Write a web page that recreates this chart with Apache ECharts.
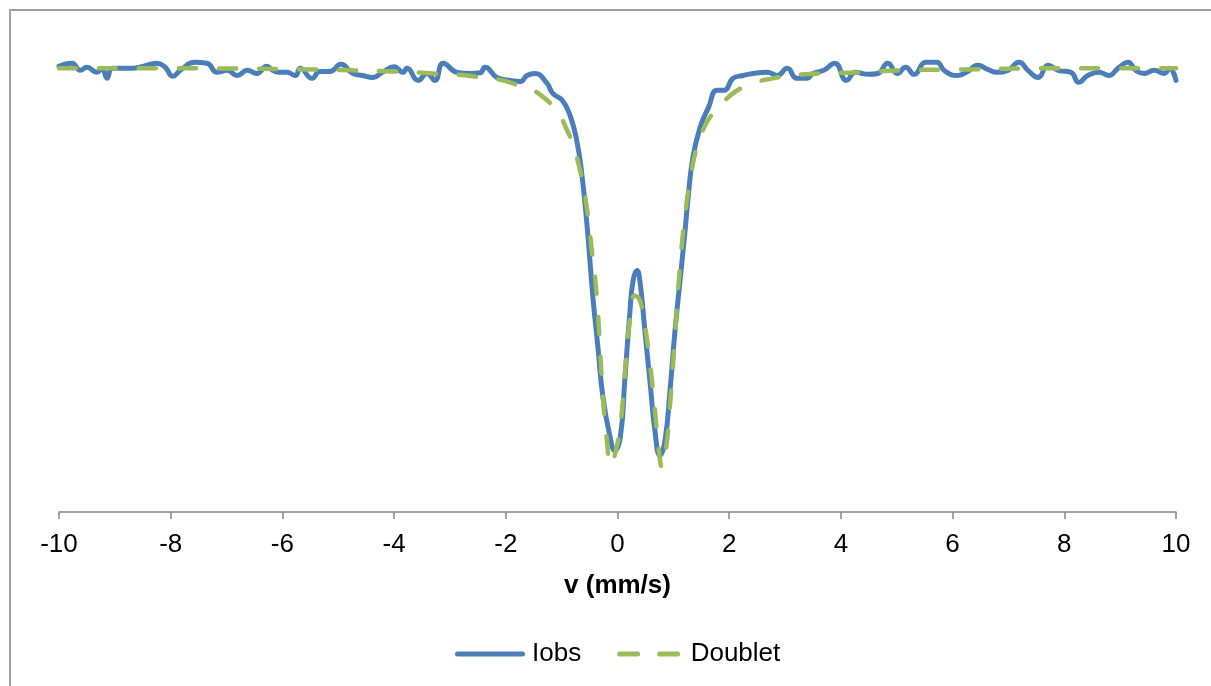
<!DOCTYPE html>
<html>
<head>
<meta charset="utf-8">
<script src="https://cdn.jsdelivr.net/npm/echarts@6/dist/echarts.min.js"></script>
<style>
html,body{margin:0;padding:0;background:#fff;}
#chart{width:1211px;height:686px;}
</style>
</head>
<body>
<div id="chart"></div>
<script>
// x ticks
const xTicks = [-10, -8, -6, -4, -2, 0, 2, 4, 6, 8, 10];

// Iobs (observed spectrum) : velocity (mm/s) and relative intensity
const iobsV = [-10.00,-9.77,-9.62,-9.50,-9.32,-9.23,-9.14,-9.05,-8.91,-8.68,-8.50,-8.25,-8.10,-7.96,-7.83,-7.57,-7.35,-7.17,-6.99,-6.81,-6.63,-6.46,-6.28,-6.17,-6.05,-5.92,-5.77,-5.68,-5.47,-5.33,-5.15,-4.95,-4.74,-4.56,-4.38,-4.21,-4.00,-3.84,-3.77,-3.57,-3.41,-3.27,-3.12,-2.87,-2.64,-2.46,-2.37,-2.16,-1.93,-1.74,-1.62,-1.48,-1.26,-1.16,-0.99,-0.85,-0.73,-0.64,-0.55,-0.44,-0.35,-0.26,-0.13,-0.05,0.05,0.13,0.22,0.28,0.35,0.40,0.49,0.58,0.67,0.76,0.85,0.94,1.03,1.12,1.21,1.26,1.35,1.48,1.63,1.78,1.91,2.07,2.25,2.43,2.68,2.86,3.04,3.21,3.39,3.50,3.69,3.89,4.10,4.26,4.50,4.66,4.84,5.01,5.16,5.31,5.52,5.71,5.87,6.09,6.27,6.45,6.63,6.80,6.99,7.19,7.35,7.53,7.71,7.89,8.12,8.26,8.42,8.62,8.80,8.96,9.14,9.28,9.43,9.61,9.79,9.88,10.00];
const iobsI = [100.09,100.23,99.91,100.05,99.82,100.00,99.55,100.00,100.00,100.00,100.09,100.23,100.05,99.64,99.91,100.27,100.23,99.82,99.91,99.68,99.91,99.77,100.09,99.91,99.82,99.82,99.68,100.00,99.55,99.86,99.86,100.18,99.77,99.68,99.59,99.82,100.07,99.82,100.00,99.46,99.77,99.46,100.23,99.82,99.77,99.80,100.05,99.59,99.46,99.41,99.68,99.77,99.32,98.87,98.56,97.88,96.75,95.26,93.05,89.67,87.42,85.16,83.36,82.77,83.36,85.93,88.95,90.44,90.89,90.44,88.18,85.93,83.67,82.55,83.22,85.48,88.18,90.44,92.69,94.05,95.99,97.34,98.24,99.01,99.01,99.55,99.68,99.77,99.82,99.68,100.00,99.55,99.55,99.77,99.91,100.23,99.46,99.82,99.73,99.77,100.23,99.77,100.05,99.73,100.27,100.27,99.86,99.68,99.86,100.14,99.95,99.82,99.91,100.27,99.91,99.59,100.14,99.91,99.82,99.37,99.68,99.82,99.68,100.00,100.27,99.91,99.77,99.91,99.77,100.00,99.46];

// Doublet (fit)
const dbV = [-10.00,-7.50,-5.47,-4.74,-4.02,-3.30,-2.59,-1.87,-1.26,-0.90,-0.67,-0.55,-0.46,-0.37,-0.26,-0.19,-0.12,-0.05,0.05,0.13,0.22,0.31,0.40,0.49,0.58,0.67,0.74,0.80,0.87,0.94,1.03,1.12,1.21,1.30,1.42,1.57,1.71,1.98,2.25,2.78,3.63,4.34,5.06,6.13,7.74,10.00];
const dbI = [100.00,100.00,99.95,99.91,99.86,99.77,99.64,99.32,98.56,97.20,95.40,93.73,91.79,89.67,85.16,83.22,82.10,82.55,83.90,86.15,88.63,89.76,89.54,88.41,86.74,84.58,82.77,82.00,82.86,84.80,87.96,91.12,93.37,94.95,96.44,97.43,97.97,98.69,99.14,99.55,99.77,99.82,99.91,99.95,100.00,100.00];

const iobsData = iobsV.map((v, i) => [v, iobsI[i]]);
const dbData = dbV.map((v, i) => [v, dbI[i]]);

const FONT = '"Liberation Sans", Arial, sans-serif';
const solidIcon = 'path://M2.5,0 H67.5 A2.5,2.5 0 0 1 67.5,5 H2.5 A2.5,2.5 0 0 1 2.5,0 Z';
const dashIcon = 'path://M2.5,0 H20.5 A2.5,2.5 0 0 1 20.5,5 H2.5 A2.5,2.5 0 0 1 2.5,0 Z M42.5,0 H60.5 A2.5,2.5 0 0 1 60.5,5 H42.5 A2.5,2.5 0 0 1 42.5,0 Z';

const chart = echarts.init(document.getElementById('chart'), null, {renderer: 'canvas'});
chart.setOption({
  animation: false,
  backgroundColor: '#ffffff',
  graphic: [{
    type: 'rect',
    shape: {x: 10, y: 10, width: 1215, height: 700},
    style: {fill: 'none', stroke: '#a0a0a0', lineWidth: 2},
    silent: true
  }],
  grid: {left: 59, right: 35, top: 24, bottom: 174},
  xAxis: {
    type: 'value',
    min: -10, max: 10, interval: 2,
    name: 'v (mm/s)',
    nameLocation: 'middle',
    nameGap: 61,
    nameTextStyle: {fontFamily: FONT, fontSize: 26, fontWeight: 'bold', color: '#000'},
    axisLine: {show: true, onZero: false, lineStyle: {color: '#868686', width: 1.5}},
    axisTick: {show: true, inside: false, length: 7, lineStyle: {color: '#868686', width: 1.5}},
    axisLabel: {fontFamily: FONT, fontSize: 26, color: '#000', margin: 20,
      formatter: v => xTicks.includes(v) ? String(v) : ''},
    splitLine: {show: false}
  },
  yAxis: {
    type: 'value',
    min: 80, max: 102,
    show: false,
    splitLine: {show: false}
  },
  legend: {
    show: true,
    orient: 'horizontal',
    top: 636,
    left: 450,
    itemWidth: 70,
    itemHeight: 5,
    itemGap: 36,
    symbolKeepAspect: true,
    textStyle: {fontFamily: FONT, fontSize: 26, color: '#000', padding: [0, 0, 0, 2]},
    data: [
      {name: 'Iobs', icon: solidIcon, itemStyle: {color: '#4A7EBB'}},
      {name: 'Doublet', icon: dashIcon, itemStyle: {color: '#9BBB59'}}
    ]
  },
  series: [
    {
      name: 'Iobs',
      type: 'line',
      data: iobsData,
      smooth: 0.5,
      symbol: 'none',
      lineStyle: {color: '#4A7EBB', width: 5, cap: 'round', join: 'round'},
      itemStyle: {color: '#4A7EBB'}
    },
    {
      name: 'Doublet',
      type: 'line',
      data: dbData,
      smooth: 0.5,
      symbol: 'none',
      lineStyle: {color: '#9BBB59', width: 4.5, type: [17, 23], cap: 'round'},
      itemStyle: {color: '#9BBB59'}
    }
  ]
});
</script>
</body>
</html>
